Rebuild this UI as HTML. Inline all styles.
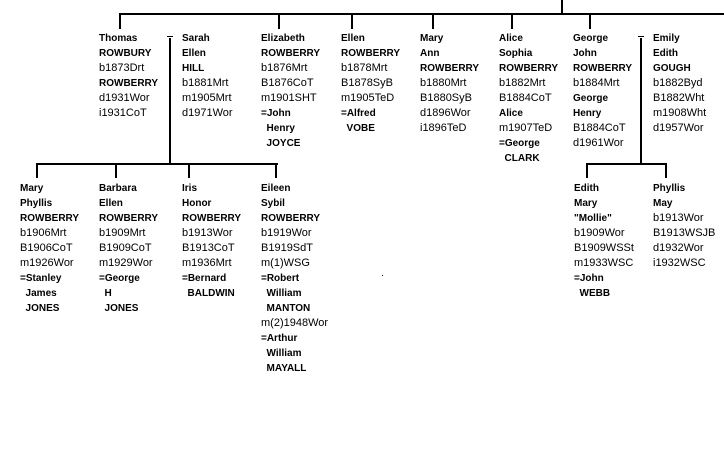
<!DOCTYPE html>
<html><head><meta charset="utf-8"><style>
body{margin:0;width:724px;height:466px;background:#fff;position:relative;overflow:hidden;font-family:"Liberation Sans",Arial,sans-serif;font-size:11px;color:#000}
.l{position:absolute;background:#000}
.c{position:absolute;line-height:15px;white-space:pre}
.b{font-weight:bold;font-size:10px}
</style></head><body>
<div class="l" style="left:561px;top:0;width:2px;height:15px"></div>
<div class="l" style="left:119px;top:13px;width:605px;height:2px"></div>
<div class="l" style="left:119px;top:13px;width:2px;height:16px"></div>
<div class="l" style="left:278px;top:13px;width:2px;height:16px"></div>
<div class="l" style="left:351px;top:13px;width:2px;height:16px"></div>
<div class="l" style="left:432px;top:13px;width:2px;height:16px"></div>
<div class="l" style="left:511px;top:13px;width:2px;height:16px"></div>
<div class="l" style="left:589px;top:13px;width:2px;height:16px"></div>
<div class="l" style="left:167px;top:36px;width:6px;height:1px"></div>
<div class="l" style="left:169px;top:38px;width:2px;height:127px"></div>
<div class="l" style="left:36px;top:163px;width:242px;height:2px"></div>
<div class="l" style="left:36px;top:163px;width:2px;height:15px"></div>
<div class="l" style="left:115px;top:163px;width:2px;height:15px"></div>
<div class="l" style="left:188px;top:163px;width:2px;height:15px"></div>
<div class="l" style="left:275px;top:163px;width:2px;height:15px"></div>
<div class="l" style="left:638px;top:36px;width:6px;height:1px"></div>
<div class="l" style="left:640px;top:38px;width:2px;height:127px"></div>
<div class="l" style="left:586px;top:163px;width:81px;height:2px"></div>
<div class="l" style="left:586px;top:163px;width:2px;height:15px"></div>
<div class="l" style="left:665px;top:163px;width:2px;height:15px"></div>
<div class="l" style="left:382px;top:275px;width:1px;height:1px"></div>

<div class="c" style="left:99px;top:31px"><span class="b">Thomas</span>
<span class="b">ROWBURY</span>
b1873Drt
<span class="b">ROWBERRY</span>
d1931Wor
i1931CoT</div>
<div class="c" style="left:182px;top:31px"><span class="b">Sarah</span>
<span class="b">Ellen</span>
<span class="b">HILL</span>
b1881Mrt
m1905Mrt
d1971Wor</div>
<div class="c" style="left:261px;top:31px"><span class="b">Elizabeth</span>
<span class="b">ROWBERRY</span>
b1876Mrt
B1876CoT
m1901SHT
<span class="b">=John</span>
<span class="b">  Henry</span>
<span class="b">  JOYCE</span></div>
<div class="c" style="left:341px;top:31px"><span class="b">Ellen</span>
<span class="b">ROWBERRY</span>
b1878Mrt
B1878SyB
m1905TeD
<span class="b">=Alfred</span>
<span class="b">  VOBE</span></div>
<div class="c" style="left:420px;top:31px"><span class="b">Mary</span>
<span class="b">Ann</span>
<span class="b">ROWBERRY</span>
b1880Mrt
B1880SyB
d1896Wor
i1896TeD</div>
<div class="c" style="left:499px;top:31px"><span class="b">Alice</span>
<span class="b">Sophia</span>
<span class="b">ROWBERRY</span>
b1882Mrt
B1884CoT
<span class="b">Alice</span>
m1907TeD
<span class="b">=George</span>
<span class="b">  CLARK</span></div>
<div class="c" style="left:573px;top:31px"><span class="b">George</span>
<span class="b">John</span>
<span class="b">ROWBERRY</span>
b1884Mrt
<span class="b">George</span>
<span class="b">Henry</span>
B1884CoT
d1961Wor</div>
<div class="c" style="left:653px;top:31px"><span class="b">Emily</span>
<span class="b">Edith</span>
<span class="b">GOUGH</span>
b1882Byd
B1882Wht
m1908Wht
d1957Wor</div>

<div class="c" style="left:20px;top:181px"><span class="b">Mary</span>
<span class="b">Phyllis</span>
<span class="b">ROWBERRY</span>
b1906Mrt
B1906CoT
m1926Wor
<span class="b">=Stanley</span>
<span class="b">  James</span>
<span class="b">  JONES</span></div>
<div class="c" style="left:99px;top:181px"><span class="b">Barbara</span>
<span class="b">Ellen</span>
<span class="b">ROWBERRY</span>
b1909Mrt
B1909CoT
m1929Wor
<span class="b">=George</span>
<span class="b">  H</span>
<span class="b">  JONES</span></div>
<div class="c" style="left:182px;top:181px"><span class="b">Iris</span>
<span class="b">Honor</span>
<span class="b">ROWBERRY</span>
b1913Wor
B1913CoT
m1936Mrt
<span class="b">=Bernard</span>
<span class="b">  BALDWIN</span></div>
<div class="c" style="left:261px;top:181px"><span class="b">Eileen</span>
<span class="b">Sybil</span>
<span class="b">ROWBERRY</span>
b1919Wor
B1919SdT
m(1)WSG
<span class="b">=Robert</span>
<span class="b">  William</span>
<span class="b">  MANTON</span>
m(2)1948Wor
<span class="b">=Arthur</span>
<span class="b">  William</span>
<span class="b">  MAYALL</span></div>
<div class="c" style="left:574px;top:181px"><span class="b">Edith</span>
<span class="b">Mary</span>
<span class="b">"Mollie"</span>
b1909Wor
B1909WSSt
m1933WSC
<span class="b">=John</span>
<span class="b">  WEBB</span></div>
<div class="c" style="left:653px;top:181px"><span class="b">Phyllis</span>
<span class="b">May</span>
b1913Wor
B1913WSJB
d1932Wor
i1932WSC</div>
</body></html>
